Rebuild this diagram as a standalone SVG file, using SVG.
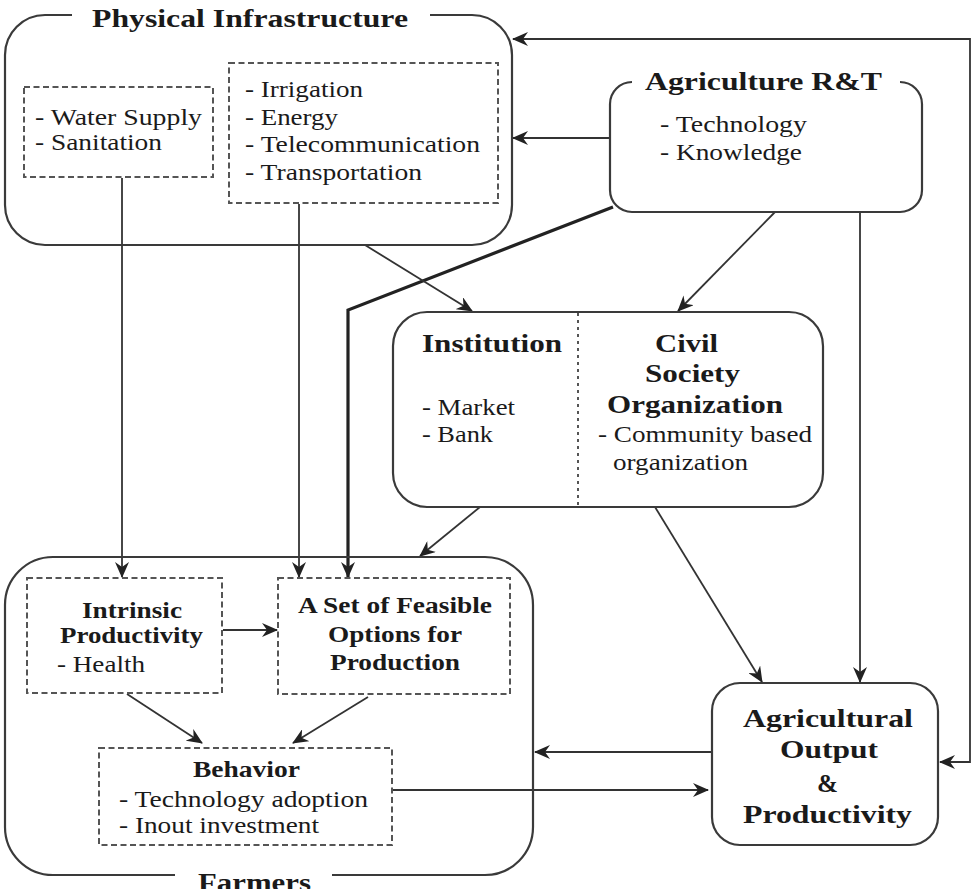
<svg xmlns="http://www.w3.org/2000/svg" width="973" height="889" viewBox="0 0 973 889">
<style>
.box{fill:none;stroke:#3a3a3a;stroke-width:2.2}
.dash{fill:none;stroke:#555;stroke-width:2;stroke-dasharray:6 3.5}
.dot{fill:none;stroke:#555;stroke-width:2;stroke-dasharray:3 4}
.con{fill:none;stroke:#333;stroke-width:1.8}
.thick{fill:none;stroke:#222;stroke-width:3.2}
text{font-family:'Liberation Serif','Times New Roman',Tinos,serif;fill:#1a1a1a}
.b{font-weight:bold;font-size:25px}
.bs{font-weight:bold;font-size:23px}
.r{font-size:23px}
</style>
<defs>
<marker id="ah" markerUnits="userSpaceOnUse" markerWidth="16" markerHeight="14" viewBox="0 0 16 14" refX="15" refY="7" orient="auto-start-reverse">
<path d="M0,0 L16,7 L0,14 L5,7 z" fill="#222"/>
</marker>
</defs>
<rect width="973" height="889" fill="#fff"/>

<g id="connectors">
<line class="con" x1="122" y1="178" x2="122" y2="577" marker-end="url(#ah)"/>
<line class="con" x1="299" y1="204" x2="299" y2="577" marker-end="url(#ah)"/>
<polyline class="thick" points="613,207 348,310 348,577" marker-end="url(#ah)"/>
<line class="con" x1="365" y1="245" x2="472" y2="311" marker-end="url(#ah)"/>
<line class="con" x1="775" y1="212" x2="678" y2="311" marker-end="url(#ah)"/>
<line class="con" x1="610" y1="138" x2="513" y2="138" marker-end="url(#ah)"/>
<line class="con" x1="860" y1="212" x2="860" y2="682" marker-end="url(#ah)"/>
<polyline class="con" points="513,39 970,39 970,762 940,762" marker-start="url(#ah)" marker-end="url(#ah)"/>
<line class="con" x1="655" y1="507" x2="762" y2="682" marker-end="url(#ah)"/>
<line class="con" x1="480" y1="507" x2="420" y2="556" marker-end="url(#ah)"/>
<line class="con" x1="223" y1="630" x2="277" y2="630" marker-end="url(#ah)"/>
<line class="con" x1="127" y1="694" x2="202" y2="743" marker-end="url(#ah)"/>
<line class="con" x1="368" y1="697" x2="293" y2="743" marker-end="url(#ah)"/>
<line class="con" x1="712" y1="752" x2="535" y2="752" marker-end="url(#ah)"/>
<line class="con" x1="392" y1="790" x2="708" y2="790" marker-end="url(#ah)"/>
</g>

<g id="physical-infrastructure">
<path class="box" d="M72,15 H45 A40,40 0 0 0 5,55 V205 A40,40 0 0 0 45,245 H472 A40,40 0 0 0 512,205 V55 A40,40 0 0 0 472,15 H430"/>
<text class="b" x="92" y="27" textLength="316" lengthAdjust="spacingAndGlyphs">Physical Infrastructure</text>
</g>
<g id="water-sanitation">
<rect class="dash" x="24" y="87" width="189" height="90"/>
<text class="r" x="35" y="125" textLength="167" lengthAdjust="spacingAndGlyphs">- Water Supply</text>
<text class="r" x="35" y="150" textLength="127" lengthAdjust="spacingAndGlyphs">- Sanitation</text>
</g>
<g id="infrastructure-list">
<rect class="dash" x="229" y="63" width="269" height="140"/>
<text class="r" x="245" y="97" textLength="118" lengthAdjust="spacingAndGlyphs">- Irrigation</text>
<text class="r" x="245" y="125" textLength="93" lengthAdjust="spacingAndGlyphs">- Energy</text>
<text class="r" x="245" y="152" textLength="235" lengthAdjust="spacingAndGlyphs">- Telecommunication</text>
<text class="r" x="245" y="180" textLength="177" lengthAdjust="spacingAndGlyphs">- Transportation</text>
</g>

<g id="agriculture-rt">
<path class="box" d="M632,82 A22,22 0 0 0 610,104 V190 A22,22 0 0 0 632,212 H900 A22,22 0 0 0 922,190 V104 A22,22 0 0 0 900,82"/>
<text class="b" x="645" y="90" textLength="237" lengthAdjust="spacingAndGlyphs">Agriculture R&amp;T</text>
<text class="r" x="660" y="132" textLength="147" lengthAdjust="spacingAndGlyphs">- Technology</text>
<text class="r" x="660" y="160" textLength="142" lengthAdjust="spacingAndGlyphs">- Knowledge</text>
</g>

<g id="institution-civil-society">
<rect class="box" x="393" y="312" width="430" height="195" rx="34" ry="34"/>
<line class="dot" x1="578" y1="313" x2="578" y2="506"/>
<text class="b" x="422" y="352" textLength="140" lengthAdjust="spacingAndGlyphs">Institution</text>
<text class="r" x="422" y="415" textLength="93" lengthAdjust="spacingAndGlyphs">- Market</text>
<text class="r" x="422" y="442" textLength="71" lengthAdjust="spacingAndGlyphs">- Bank</text>
<text class="b" x="655" y="352" textLength="63" lengthAdjust="spacingAndGlyphs">Civil</text>
<text class="b" x="645" y="382" textLength="95" lengthAdjust="spacingAndGlyphs">Society</text>
<text class="b" x="607" y="413" textLength="176" lengthAdjust="spacingAndGlyphs">Organization</text>
<text class="r" x="598" y="442" textLength="214" lengthAdjust="spacingAndGlyphs">- Community based</text>
<text class="r" x="613" y="470" textLength="135" lengthAdjust="spacingAndGlyphs">organization</text>
</g>

<g id="farmers">
<path class="box" d="M175,875 H53 A48,48 0 0 1 5,827 V605 A48,48 0 0 1 53,557 H485 A48,48 0 0 1 533,605 V827 A48,48 0 0 1 485,875 H332"/>
<text class="b" x="198" y="891" textLength="113" lengthAdjust="spacingAndGlyphs">Farmers</text>
</g>
<g id="intrinsic-productivity">
<rect class="dash" x="27" y="578" width="195" height="115"/>
<text class="bs" x="82" y="618" textLength="100" lengthAdjust="spacingAndGlyphs">Intrinsic</text>
<text class="bs" x="60" y="643" textLength="143" lengthAdjust="spacingAndGlyphs">Productivity</text>
<text class="r" x="57" y="672" textLength="88" lengthAdjust="spacingAndGlyphs">- Health</text>
</g>
<g id="feasible-options">
<rect class="dash" x="278" y="578" width="232" height="116"/>
<text class="bs" x="298" y="613" textLength="194" lengthAdjust="spacingAndGlyphs">A Set of Feasible</text>
<text class="bs" x="328" y="642" textLength="134" lengthAdjust="spacingAndGlyphs">Options for</text>
<text class="bs" x="330" y="670" textLength="130" lengthAdjust="spacingAndGlyphs">Production</text>
</g>
<g id="behavior">
<rect class="dash" x="99" y="748" width="293" height="97"/>
<text class="bs" x="193" y="777" textLength="107" lengthAdjust="spacingAndGlyphs">Behavior</text>
<text class="r" x="119" y="807" textLength="249" lengthAdjust="spacingAndGlyphs">- Technology adoption</text>
<text class="r" x="119" y="833" textLength="200" lengthAdjust="spacingAndGlyphs">- Inout investment</text>
</g>

<g id="agricultural-output">
<rect class="box" x="712" y="683" width="226" height="162" rx="28" ry="28"/>
<text class="b" x="743" y="727" textLength="170" lengthAdjust="spacingAndGlyphs">Agricultural</text>
<text class="b" x="780" y="758" textLength="98" lengthAdjust="spacingAndGlyphs">Output</text>
<text class="b" x="817" y="792" textLength="21" lengthAdjust="spacingAndGlyphs">&amp;</text>
<text class="b" x="743" y="823" textLength="169" lengthAdjust="spacingAndGlyphs">Productivity</text>
</g>
</svg>
